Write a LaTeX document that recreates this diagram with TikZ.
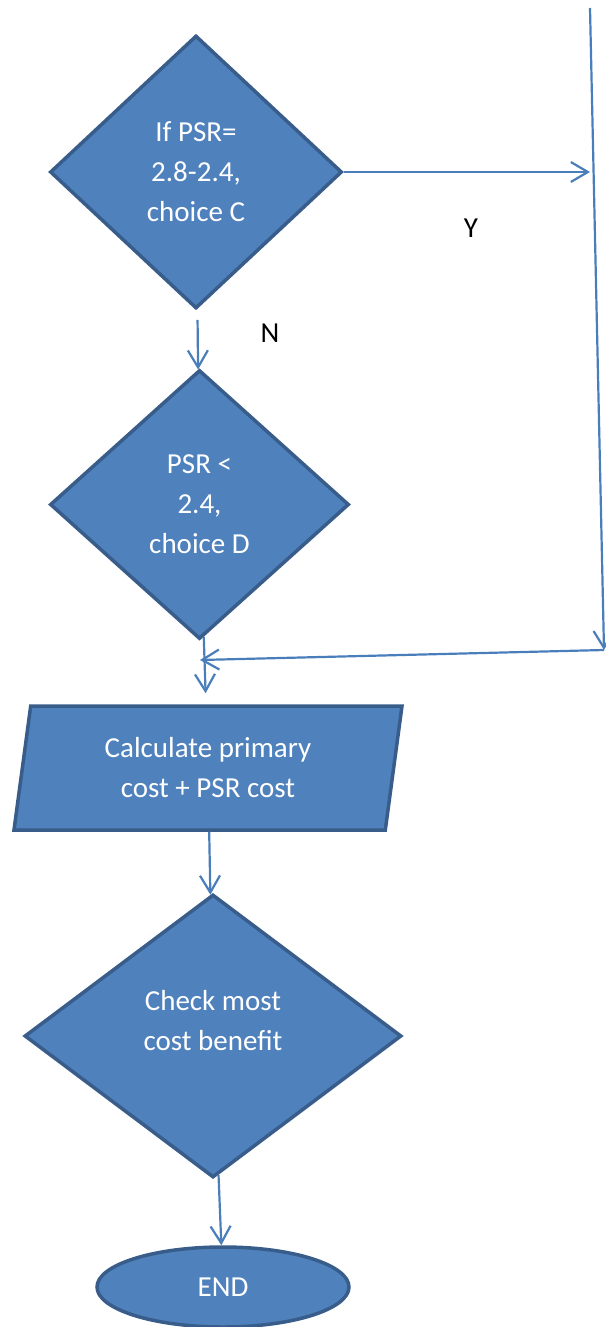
\documentclass[tikz,border=0pt]{standalone}
\usepackage{fontspec}
\setmainfont{Carlito}
\usetikzlibrary{arrows.meta,shapes.geometric}
\definecolor{boxblue}{HTML}{4F81BD}
\definecolor{edgeblue}{HTML}{385D8A}
\definecolor{lineblue}{HTML}{4A7EBB}

\begin{document}
\begin{tikzpicture}[
x=1pt,y=-1pt,
font=\fontsize{29}{40}\selectfont,
decision/.style={diamond,draw=edgeblue,fill=boxblue,line width=3.5pt,
text=white,align=center,inner sep=0pt},
io/.style={trapezium,trapezium left angle=76,trapezium right angle=104,
trapezium stretches body,draw=edgeblue,fill=boxblue,line width=3.5pt,
text=white,align=center,minimum width=388pt,minimum height=124pt},
terminal/.style={ellipse,draw=edgeblue,fill=boxblue,line width=3.5pt,
text=white,minimum width=252pt,minimum height=80pt},
flow/.style={-{Straight Barb[length=17pt,width=20pt]},draw=lineblue,line width=2.2pt},
tag/.style={text=black}
]
\useasboundingbox (0,0) rectangle (605,1327);

\node[decision,minimum width=292pt,minimum height=273pt] (d1) at (196,172)
{If PSR=\\2.8-2.4,\\choice C};
\node[decision,minimum width=299pt,minimum height=269pt] (d2) at (199.5,504.5)
{PSR <\\2.4,\\choice D};
\node[io] (calc) at (208,768) {Calculate primary\\cost + PSR cost};
\node[decision,minimum width=377pt,minimum height=283pt] (d3) at (213,1036)
{\raisebox{14pt}[\height][\depth]{\begin{tabular}{@{}c@{}}Check most\\cost benefit\end{tabular}}};
\node[terminal] (end) at (223,1287) {END};

\node[tag] (ylab) at (471,228) {Y};
\node[tag] (nlab) at (270,333) {N};

% yes branch runs down the right side
\coordinate (top) at (590,8);
\coordinate (hit) at (590,172);
\coordinate (corner) at (604,650);
\coordinate (join) at (200,660);

\draw[flow] (d1.east) -- (hit);
\draw[flow] (top) -- (corner);
\draw[flow] (corner) -- (join);
\draw[flow,shorten <=11pt] (d1) -- (d2);
\draw[flow,shorten >=11pt] (d2) -- (calc);
\draw[flow] (calc) -- (d3);
\draw[flow] (d3) -- (end);
\end{tikzpicture}
\end{document}
